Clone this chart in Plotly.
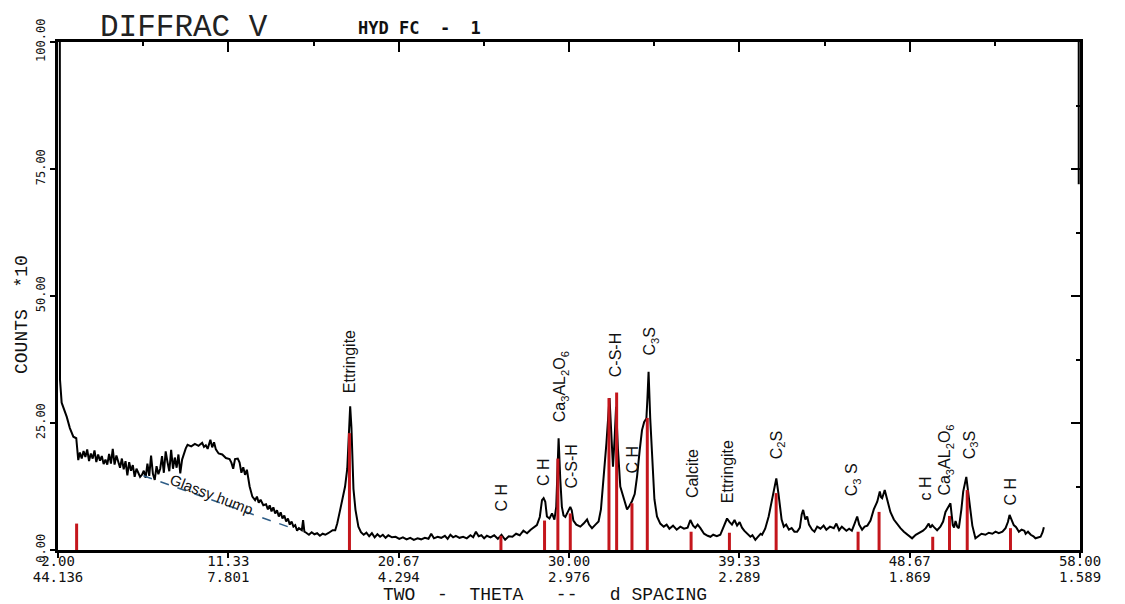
import plotly.graph_objects as go

# ---------------- data ----------------
two_theta = [
    2.10, 2.11, 2.20, 2.35, 2.48, 2.65, 2.84, 3.00, 3.11, 3.20, 3.30, 3.40, 3.50, 3.60, 3.70, 3.80, 3.90,
    4.00, 4.10, 4.20, 4.30, 4.40, 4.50, 4.60, 4.70, 4.80, 4.90, 5.00, 5.10, 5.20, 5.30, 5.40, 5.50, 5.60,
    5.70, 5.80, 5.90, 6.00, 6.10, 6.20, 6.30, 6.40, 6.50, 6.60, 6.70, 6.80, 6.90, 7.00, 7.10, 7.20, 7.30,
    7.40, 7.50, 7.60, 7.70, 7.80, 7.90, 8.00, 8.10, 8.20, 8.30, 8.40, 8.50, 8.60, 8.70, 8.80, 8.90, 9.00,
    9.10, 9.30, 9.50, 9.70, 9.90, 10.00, 10.10, 10.20, 10.35, 10.45, 10.55, 10.65, 10.80, 11.00, 11.20,
    11.40, 11.50, 11.60, 11.70, 11.85, 11.95, 12.05, 12.15, 12.25, 12.35, 12.50, 12.65, 12.80, 12.90,
    13.00, 13.10, 13.25, 13.40, 13.50, 13.60, 13.70, 13.80, 13.90, 14.00, 14.10, 14.20, 14.30, 14.40,
    14.50, 14.60, 14.70, 14.80, 14.90, 15.00, 15.10, 15.20, 15.36, 15.43, 15.50,
    15.60, 15.75, 15.90, 16.05, 16.20, 16.35, 16.50, 16.65, 16.80, 16.95, 17.05, 17.19, 17.30, 17.46,
    17.60, 17.73, 17.85, 17.95, 18.01, 18.08, 18.19, 18.30, 18.46, 18.60, 18.75, 18.90, 19.05, 19.20,
    19.35, 19.50, 19.65, 19.80, 19.95, 20.10, 20.30, 20.50, 20.70, 20.90, 21.10, 21.30, 21.50, 21.70,
    21.90, 22.10, 22.30, 22.45, 22.60, 22.80, 23.00, 23.20, 23.35, 23.50, 23.65, 23.80, 24.00, 24.20,
    24.40, 24.60, 24.75, 24.90, 25.05, 25.20, 25.35, 25.50, 25.70, 25.90, 26.10, 26.30, 26.50, 26.70,
    26.90, 27.10, 27.30, 27.50, 27.70, 27.90, 28.05,
    28.24, 28.40, 28.52, 28.61, 28.70, 28.79, 28.93, 29.07, 29.20, 29.30, 29.43, 29.52, 29.61, 29.70,
    29.80, 29.95, 30.07, 30.15, 30.24, 30.40, 30.62, 30.80, 30.99, 31.10, 31.26, 31.45, 31.62, 31.75,
    31.90, 32.05, 32.22, 32.32, 32.41, 32.50, 32.58, 32.68, 32.81, 33.00, 33.18, 33.30, 33.45, 33.60,
    33.73, 33.87, 34.00, 34.12, 34.24, 34.30, 34.36, 34.45, 34.55, 34.68, 34.82, 35.00, 35.19, 35.35,
    35.50, 35.70, 35.90, 36.10, 36.30, 36.50, 36.65, 36.80, 36.92, 37.05, 37.20,
    37.40, 37.60, 37.75, 37.90, 38.10, 38.29, 38.45, 38.60, 38.66, 38.80, 38.93, 39.07, 39.21, 39.35,
    39.48, 39.60, 39.75, 39.94, 40.05, 40.21, 40.35, 40.50, 40.58, 40.75, 40.94, 41.05, 41.18, 41.36,
    41.48, 41.55, 41.65, 41.77, 41.90, 42.05, 42.20, 42.35, 42.50, 42.65, 42.75, 42.83, 42.95, 43.05,
    43.15, 43.32, 43.45, 43.60, 43.78, 43.95, 44.10, 44.30, 44.51, 44.65, 44.80, 44.95, 45.06, 45.20,
    45.35, 45.50, 45.65, 45.79, 45.90, 46.06, 46.20, 46.35, 46.52, 46.70, 46.89, 47.03, 47.10, 47.16,
    47.30, 47.45, 47.61, 47.80, 48.00, 48.16,
    48.35, 48.55, 48.80, 49.00, 49.20, 49.40, 49.55, 49.71, 49.80, 49.90, 50.00, 50.17, 50.35, 50.50,
    50.63, 50.78, 50.90, 50.98, 51.03, 51.10, 51.18, 51.27, 51.36, 51.50, 51.60, 51.77, 51.88, 52.00,
    52.10, 52.27, 52.45, 52.60, 52.82, 53.00, 53.20, 53.37, 53.55, 53.75, 53.92, 54.05, 54.14, 54.25,
    54.37, 54.50, 54.65, 54.80, 54.95, 55.02, 55.15, 55.30, 55.45, 55.56, 55.70, 55.84, 55.95, 56.02,
]
counts = [
    100.0, 33.5, 29.0, 27.5, 26.2, 24.0, 22.3, 22.0, 17.7, 19.2, 18.0, 19.5, 18.3, 19.8, 17.5, 19.0, 18.0,
    19.6, 17.3, 18.8, 17.6, 18.5, 16.9, 17.8, 16.8, 18.9, 17.0, 19.9, 16.8, 18.6, 17.1, 16.2, 18.0, 15.9,
    17.5, 14.7, 17.3, 15.6, 16.7, 14.4, 16.0, 15.2, 14.4, 14.8, 15.6, 14.2, 17.0, 14.6, 18.6, 15.0, 13.8,
    16.5, 14.9, 16.0, 18.5, 15.2, 19.4, 17.3, 15.5, 19.7, 16.0, 18.2, 16.2, 18.8, 15.1, 17.8, 19.0, 20.0,
    20.7, 20.4, 20.9, 20.5, 21.1, 20.3, 20.6, 19.9, 21.7, 20.2, 21.2, 19.8, 19.0, 18.8, 18.1,
    17.9, 17.2, 16.0, 17.9, 18.0, 17.2, 15.2, 16.3, 14.8, 15.8, 12.5, 10.5, 9.8, 10.5,
    9.3, 9.9, 8.8, 9.0, 8.0, 8.8, 7.6, 8.4, 7.2, 7.8, 6.6, 7.4, 6.2, 6.8,
    5.6, 6.2, 5.0, 5.6, 4.6, 4.9, 3.8, 4.3, 3.9, 5.9, 3.6,
    3.4, 3.0, 3.5, 3.1, 3.3, 2.8, 3.2, 3.0, 3.3, 3.6, 3.9, 3.9, 5.2, 7.9,
    10.5, 12.5, 16.0, 24.0, 28.3, 24.0, 12.0, 7.9, 4.6, 3.5, 3.0, 3.4, 2.7, 3.3,
    2.5, 3.1, 2.6, 3.0, 2.4, 2.9, 2.5, 2.6, 2.2, 2.5, 2.1, 2.4, 2.0, 2.3,
    2.1, 2.4, 2.2, 3.2, 2.3, 2.6, 2.4, 2.8, 2.2, 3.0, 2.5, 2.8, 2.4, 2.6,
    2.3, 2.9, 2.5, 3.6, 2.7, 2.9, 2.3, 2.8, 2.5, 2.9, 2.2, 3.0, 2.0, 2.7,
    2.6, 3.2, 2.9, 3.8, 3.3, 4.0, 4.4,
    4.9, 6.5, 9.8, 10.2, 9.5, 6.6, 6.2, 7.2, 6.0, 8.5, 22.0, 14.0, 8.5, 6.8,
    6.5, 7.6, 8.5, 7.8, 5.8, 5.0, 4.6, 5.2, 6.0, 5.0, 4.3, 5.0, 5.6, 8.0,
    14.4, 21.0, 29.9, 22.0, 16.4, 22.0, 28.2, 20.0, 12.5, 10.2, 8.0, 8.6, 9.6, 11.0,
    14.5, 19.5, 23.6, 25.2, 25.9, 30.0, 35.1, 26.0, 17.7, 10.0, 6.6, 5.2, 4.6, 5.0,
    4.2, 4.8, 4.0, 4.6, 4.2, 4.4, 5.9, 4.8, 4.4, 5.0, 4.3,
    3.2, 2.8, 2.6, 3.0, 2.7, 3.0, 4.5, 5.8, 6.2, 5.5, 5.0, 5.9, 4.8, 5.5,
    4.4, 3.8, 3.2, 2.6, 2.9, 2.0, 2.6, 3.2, 3.0, 4.2, 6.6, 8.5, 11.2, 14.1,
    11.0, 8.5, 6.0, 4.6, 5.0, 4.0, 4.3, 3.6, 3.6, 4.4, 7.0, 7.9, 6.0, 6.6,
    5.0, 4.0, 3.6, 4.6, 4.2, 4.8, 4.0, 4.6, 4.3, 5.2, 3.9, 4.6, 4.2, 3.8,
    4.2, 3.8, 5.2, 6.6, 5.0, 4.0, 4.6, 4.8, 5.8, 8.0, 9.5, 11.5, 10.4, 10.2,
    11.8, 9.5, 7.5, 6.0, 5.0, 4.3,
    3.6, 3.0, 2.3, 3.0, 3.4, 3.8, 4.3, 5.2, 4.4, 4.9, 4.5, 3.9, 4.6, 5.6,
    7.5, 8.6, 9.2, 6.5, 4.9, 4.4, 5.7, 4.6, 4.3, 8.0, 11.5, 14.4, 11.0, 7.2,
    4.8, 2.3, 2.8, 3.2, 3.0, 3.4, 3.2, 3.6, 3.3, 3.6, 4.3, 5.5, 6.9, 5.9,
    4.9, 4.5, 3.6, 4.0, 3.8, 3.2, 3.6, 3.0, 2.7, 2.3, 2.5, 2.6, 3.5, 4.5,
]

# right-hand edge spike of the scan
edge_two_theta = [57.93, 57.93]
edge_counts = [100.0, 72.0]

# reference (stick) lines, red
ref_pos = [3.02, 17.97, 26.27, 28.66, 29.39, 30.07, 32.19, 32.61, 33.45, 34.29,
           36.69, 38.79, 41.35, 45.84, 46.99, 49.93, 50.85, 51.82, 54.19]
ref_height = [5.2, 23.0, 2.8, 5.8, 18.0, 7.2, 29.9, 31.0, 9.2, 26.0,
              3.6, 3.4, 11.2, 3.6, 7.5, 2.6, 6.7, 11.8, 4.3]

# glassy hump base line (hand drawn)
hump_x = [6.68, 14.9]
hump_y = [14.6, 4.2]

# phase labels
phase_text = ["Ettringite", "C H", "C H", "Ca<sub>3</sub>AL<sub>2</sub>O<sub>6</sub>", "C-S-H",
              "C-S-H", "C<sub>3</sub>S", "C H", "Calcite", "Ettringite", "C<sub>2</sub>S",
              "C<sub>3</sub> S", "c H", "Ca<sub>3</sub>AL<sub>2</sub>O<sub>6</sub>", "C<sub>3</sub>S", "C H"]
phase_x = [17.95, 26.29, 28.59, 29.58, 30.13, 32.59, 34.46, 33.47, 36.81, 38.68, 41.42,
           45.58, 49.53, 50.63, 52.0, 54.19]
phase_y = [37.0, 10.4, 15.4, 32.1, 16.5, 38.4, 41.1, 17.9, 15.0, 15.4, 20.7,
           13.8, 12.2, 17.7, 20.5, 11.6]

tick_2theta = [2.00, 11.33, 20.67, 30.00, 39.33, 48.67, 58.00]
tick_2theta_text = ["2.00", "11.33", "20.67", "30.00", "39.33", "48.67", "58.00"]
tick_d_text = ["44.136", "7.801", "4.294", "2.976", "2.289", "1.869", "1.589"]
y_ticks = [0, 25, 50, 75, 100]
y_tick_text = ["0.00", "25.00", "50.00", "75.00", "100.00"]

# ---------------- layout geometry ----------------
W, H = 1125, 604
ML, MR, MT, MB = 58, 45, 42, 37
PW = W - ML - MR
PH = H - MT - MB
Y_BOTTOM_PX = 550
PAPER0 = H - MB
dom0 = (PAPER0 - Y_BOTTOM_PX) / PH
row1_pos = (PAPER0 - 551) / PH
row2_pos = 0.0


def paper_x(px):
    return (px - ML) / PW


def paper_y(py):
    return (PAPER0 - py) / PH


MONO = "DejaVu Sans Mono, monospace"
THIN_MONO = "Liberation Mono, DejaVu Sans Mono, monospace"
HAND = "Liberation Sans Narrow, Liberation Sans, Arial, sans-serif"
NB = "\u00a0"

fig = go.Figure()

fig.add_trace(go.Scatter(x=two_theta, y=counts, mode="lines",
                         line=dict(color="black", width=2), hoverinfo="skip"))
fig.add_trace(go.Scatter(x=edge_two_theta, y=edge_counts, mode="lines",
                         line=dict(color="black", width=2), hoverinfo="skip"))

bx, by = [], []
for p, h in zip(ref_pos, ref_height):
    bx += [p, p, None]
    by += [0, h, None]
fig.add_trace(go.Scatter(x=bx, y=by, mode="lines",
                         line=dict(color="#c4161c", width=3), hoverinfo="skip"))

fig.add_trace(go.Scatter(x=hump_x, y=hump_y, mode="lines",
                         line=dict(color="#2e5d87", width=1.5, dash="dash"), hoverinfo="skip"))

# invisible helper traces so that overlay axes are drawn
for xa, ya in (("x2", "y2"), ("x3", "y"), ("x4", "y")):
    fig.add_trace(go.Scatter(x=tick_2theta, y=[0] * len(tick_2theta), xaxis=xa, yaxis=ya,
                             mode="markers", marker=dict(opacity=0), hoverinfo="skip"))

for t, x, y in zip(phase_text, phase_x, phase_y):
    fig.add_annotation(x=x, y=y, xref="x", yref="y", text=t, showarrow=False,
                       textangle=-90, font=dict(family=HAND, size=16, color="#111"))

fig.add_annotation(x=10.44, y=11.0, xref="x", yref="y", text="Glassy hump", showarrow=False,
                   textangle=21, font=dict(family=HAND, size=15, color="#111"))

# titles
fig.add_annotation(x=paper_x(98), y=paper_y(27), xref="paper", yref="paper",
                   text="DIFFRAC" + NB + "V", showarrow=False, xanchor="left", yanchor="middle",
                   font=dict(family=THIN_MONO, size=31, color="#222"))
fig.add_annotation(x=paper_x(356), y=paper_y(28), xref="paper", yref="paper",
                   text="<b>HYD" + NB + "FC" + NB + NB + "-" + NB + NB + "1</b>", showarrow=False,
                   xanchor="left", yanchor="middle",
                   font=dict(family=MONO, size=17, color="#111"))
fig.add_annotation(x=paper_x(22), y=paper_y(315), xref="paper", yref="paper",
                   text="COUNTS" + NB + NB + "*10", showarrow=False, textangle=-90,
                   xanchor="center", yanchor="middle",
                   font=dict(family=THIN_MONO, size=18, color="#111"))
fig.add_annotation(x=paper_x(545), y=paper_y(595), xref="paper", yref="paper",
                   text="TWO" + NB * 2 + "-" + NB * 2 + "THETA" + NB * 3 + "--" + NB * 3 + "d" + NB + "SPACING",
                   showarrow=False, yanchor="middle",
                   font=dict(family=THIN_MONO, size=18, color="#111"))

fig.update_layout(
    width=W, height=H,
    margin=dict(l=ML, r=MR, t=MT, b=MB, autoexpand=False),
    paper_bgcolor="white", plot_bgcolor="white",
    showlegend=False,
    xaxis=dict(range=[2, 58], tickmode="array", tickvals=tick_2theta, showticklabels=False,
               ticks="outside", ticklen=5, tickwidth=2, tickcolor="black",
               showline=True, linewidth=3, linecolor="black", showgrid=False, zeroline=False,
               anchor="y"),
    xaxis2=dict(range=[2, 58], overlaying="x", side="top", anchor="y",
                tickmode="array", tickvals=tick_2theta, showticklabels=False,
                ticks="inside", ticklen=10, tickwidth=2, tickcolor="black",
                minor=dict(tick0=2, dtick=14 / 3, ticks="inside", ticklen=4, tickwidth=2, tickcolor="black"),
                showline=True, linewidth=3, linecolor="black", showgrid=False, zeroline=False),
    xaxis3=dict(range=[2, 58], overlaying="x", anchor="free", position=row1_pos,
                tickmode="array", tickvals=tick_2theta, ticktext=tick_2theta_text,
                ticks="", showline=False, showgrid=False, zeroline=False,
                tickfont=dict(family=MONO, size=14, color="#111")),
    xaxis4=dict(range=[2, 58], overlaying="x", anchor="free", position=row2_pos,
                tickmode="array", tickvals=tick_2theta, ticktext=tick_d_text,
                ticks="", showline=False, showgrid=False, zeroline=False,
                tickfont=dict(family=MONO, size=14, color="#111")),
    yaxis=dict(range=[0, 100], domain=[dom0, 1], tickmode="array", tickvals=y_ticks, ticktext=y_tick_text,
               tickangle=-90, ticks="outside", ticklen=5, tickwidth=2, tickcolor="black",
               showline=True, linewidth=3, linecolor="black", showgrid=False, zeroline=False,
               tickfont=dict(family=MONO, size=12, color="#111")),
    yaxis2=dict(range=[0, 100], overlaying="y", side="right", anchor="x",
                tickmode="array", tickvals=y_ticks, showticklabels=False,
                ticks="inside", ticklen=9, tickwidth=2, tickcolor="black",
                minor=dict(tick0=0, dtick=12.5, ticks="inside", ticklen=4, tickwidth=2, tickcolor="black"),
                showline=True, linewidth=3, linecolor="black", showgrid=False, zeroline=False),
)

fig.write_html("out.html", config={"displayModeBar": False},
               post_script="document.body.style.margin='0';document.body.style.overflow='hidden';")
